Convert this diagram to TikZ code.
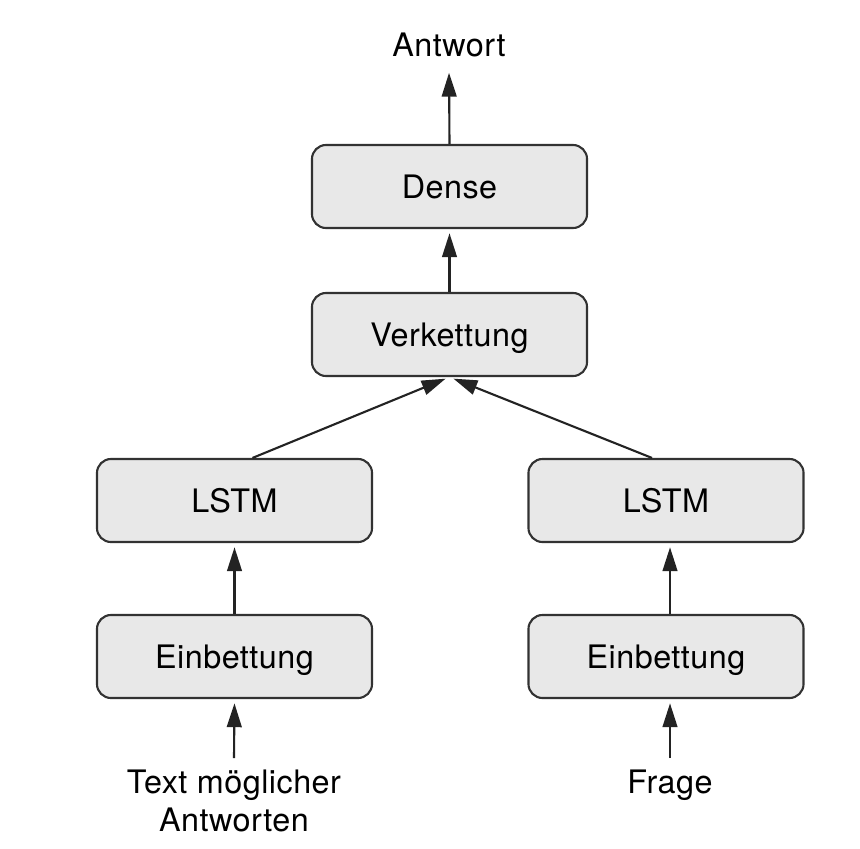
\documentclass[tikz,border=0pt]{standalone}
\usepackage{fontspec}
\setmainfont{TeX Gyre Heros}[LetterSpace=1.5]
\usetikzlibrary{arrows.meta}
\definecolor{box-fill}{RGB}{232,232,232}
\definecolor{box-line}{RGB}{50,50,50}
\definecolor{arrow-color}{RGB}{35,35,35}

\begin{document}
\begin{tikzpicture}[x=0.025cm, y=-0.025cm,
  layer/.style={rectangle, draw=box-line, line width=1.5pt, fill=box-fill, rounded corners=10pt, minimum width=6.875cm, minimum height=2.075cm, text height=16.5pt, text depth=0pt, font=\fontsize{23}{27}\selectfont, text=black},
  textlabel/.style={inner sep=8pt, font=\fontsize{23}{27}\selectfont, align=center, text=black},
  link/.style={-{Triangle[length=17pt, width=10.5pt]}, line width=1.5pt, draw=arrow-color, shorten >=3pt}]
\useasboundingbox (0,0) rectangle (860,848);

\node (dense) [layer] at (449.5,186.5) {Dense};
\node (concat) [layer] at (449.5,334.5) {Verkettung};
\node (lstm1) [layer] at (234.5,500.5) {LSTM};
\node (lstm2) [layer] at (666,500.5) {LSTM};
\node (embed1) [layer] at (234.5,656.5) {Einbettung};
\node (embed2) [layer] at (666,656.5) {Einbettung};
\node (antwort) [textlabel] at (449,45) {Antwort};
\node (answers) [textlabel, anchor=north] at (234,758) {Text möglicher\\Antworten};
\node (question) [textlabel, anchor=north] at (670,758) {Frage};

\draw[link] (dense.north) -- (antwort.south);
\draw[link] (concat.north) -- (dense.south);
\draw[link] ([xshift=0.45cm]lstm1.north) -- (concat.south);
\draw[link] ([xshift=-0.35cm]lstm2.north) -- (concat.south);
\draw[link] (embed1.north) -- (lstm1.south);
\draw[link] ([xshift=0.1cm]embed2.north) -- ([xshift=0.1cm]lstm2.south);
\draw[link] (answers.north) -- (embed1.south);
\draw[link] (question.north) -- (question.north |- embed2.south);
\end{tikzpicture}
\end{document}
